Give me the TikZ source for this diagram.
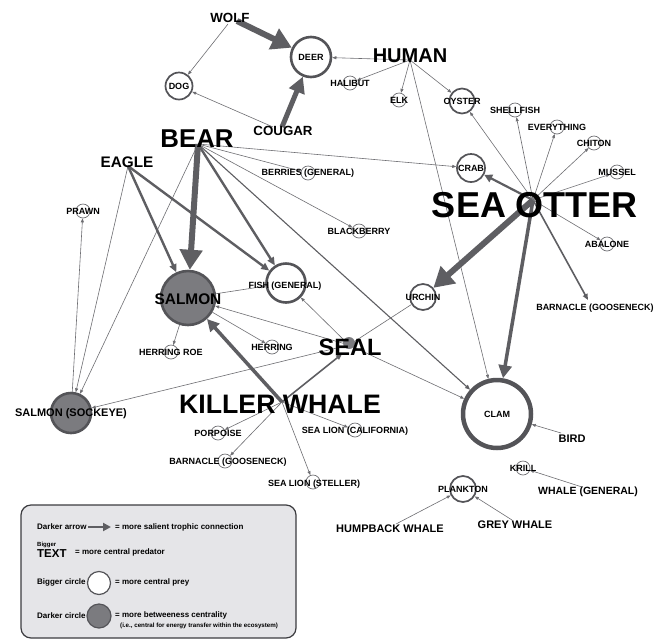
\documentclass[tikz,border=0pt]{standalone}
\usepackage{fontspec}
\setmainfont{Liberation Sans}
\usetikzlibrary{arrows.meta,backgrounds}
\definecolor{edgec}{HTML}{5E5E62}
\definecolor{thinc}{HTML}{6E6E72}
\definecolor{nodec}{HTML}{545458}
\definecolor{fillg}{HTML}{7B7B7F}
\definecolor{legbg}{HTML}{E5E5E8}
\definecolor{legbd}{HTML}{3C3C40}
\begin{document}
\begin{tikzpicture}[x=1pt,y=-1pt,
  every node/.style={inner sep=0pt},
  fnt/.style={font=\bfseries\fontsize{#1}{#1}\selectfont},
  lbl/.style={fnt=9},
  sc/.style={circle, draw=thinc, line width=0.7pt, fill=white, minimum size=14pt},
  mc/.style={circle, draw=nodec, line width=1.7pt, fill=white, minimum size=#1},
  bc/.style={circle, draw=nodec, line width=2.6pt, fill=white, minimum size=#1},
  gc/.style={circle, draw=nodec, line width=2.6pt, fill=fillg, minimum size=#1},
  hugeA/.style={draw=edgec, line width=6pt, -{Triangle[length=20pt,width=22pt]}},
  bigA/.style={draw=edgec, line width=5pt, -{Triangle[length=16pt,width=16pt]}},
  thickA/.style={draw=edgec, line width=3.5pt, -{Triangle[length=13pt,width=13pt]}},
  kwA/.style={draw=edgec, line width=3.5pt, -{Triangle[length=12pt,width=12pt]}},
  medA/.style={draw=edgec, line width=2.4pt, -{Triangle[length=8pt,width=7pt]}},
  crabA/.style={draw=edgec, line width=2.2pt, -{Triangle[length=8pt,width=8pt]}},
  semiTwoA/.style={draw=edgec, line width=1.6pt, -{Triangle[length=6pt,width=5pt]}},
  semiA/.style={draw=edgec, line width=1.1pt, -{Triangle[length=5pt,width=4pt]}},
  thinA/.style={draw=thinc, line width=0.6pt, -{Triangle[length=4pt,width=3pt]}},
  thinL/.style={draw=thinc, line width=0.6pt}
]
\useasboundingbox (0,0) rectangle (662,641);

% ---------- nodes ----------
\node[bc=40pt] (deer) at (311,57) {};
\node[lbl] at (deer) {DEER};
\node[mc=27pt] (dog) at (179,86) {};
\node[lbl] at (dog) {DOG};
\node[fnt=13.3] (wolf) at (230,18) {WOLF};
\node[fnt=13.3] (cougar) at (283,131) {COUGAR};
\node[fnt=20] (human) at (410,56) {HUMAN};
\node[sc] (halibut) at (350,83) {};
\node[lbl] at (halibut) {HALIBUT};
\node[sc] (elk) at (399,100) {};
\node[lbl] at (elk) {ELK};
\node[mc=25pt] (oyster) at (462,101) {};
\node[lbl] at (oyster) {OYSTER};
\node[sc] (shellfish) at (515,110) {};
\node[lbl] at (shellfish) {SHELLFISH};
\node[sc] (everything) at (557,127) {};
\node[lbl] at (everything) {EVERYTHING};
\node[sc] (chiton) at (594,143) {};
\node[lbl] at (chiton) {CHITON};
\node[sc] (mussel) at (617,172) {};
\node[lbl] at (mussel) {MUSSEL};
\node[mc=28pt] (crab) at (471,168) {};
\node[lbl] at (crab) {CRAB};
\node[sc] (abalone) at (607,244) {};
\node[lbl] at (abalone) {ABALONE};
\node[lbl] (barnR) at (595,308) {BARNACLE (GOOSENECK)};
\node[fnt=25.8] (bear) at (197,139) {BEAR};
\node[fnt=15.3] (eagle) at (127,162) {EAGLE};
\node[sc] (berries) at (308,173) {};
\node[lbl] at (berries) {BERRIES (GENERAL)};
\node[sc] (blackberry) at (359,231) {};
\node[lbl] at (blackberry) {BLACKBERRY};
\node[sc] (prawn) at (83,211) {};
\node[lbl] at (prawn) {PRAWN};
\node[gc=54pt] (salmon) at (188,298) {};
\node[fnt=15.4] at (188,299) {SALMON};
\node[bc=39pt] (fish) at (286,283) {};
\node[lbl] at (285,286) {FISH (GENERAL)};
\node[mc=26pt] (urchin) at (423,297) {};
\node[lbl] at (urchin) {URCHIN};
\node[sc] (roe) at (171,352) {};
\node[lbl] at (roe) {HERRING ROE};
\node[sc] (herring) at (272,347) {};
\node[lbl] at (herring) {HERRING};
\node[circle, fill=fillg, minimum size=12pt] (sealdot) at (349,343) {};
\node[fnt=23.6] (seal) at (350,347) {SEAL};
\node[gc=40pt] (sockeye) at (71,413) {};
\node[fnt=11] at (71,414) {SALMON (SOCKEYE)};
\node[fnt=26.7] (kw) at (280,404) {KILLER WHALE};
\node[sc] (porpoise) at (218,433) {};
\node[lbl] at (porpoise) {PORPOISE};
\node[sc] (barnL) at (225,461) {};
\node[lbl] at (228,462) {BARNACLE (GOOSENECK)};
\node[sc] (slcal) at (355,430) {};
\node[lbl] at (355,431) {SEA LION (CALIFORNIA)};
\node[sc] (slst) at (313,482) {};
\node[lbl] at (314,484) {SEA LION (STELLER)};
\node[circle, draw=nodec, line width=4.5pt, fill=white, minimum size=68pt] (clam) at (497,414) {};
\node[lbl] at (clam) {CLAM};
\node[fnt=11] (bird) at (572,439) {BIRD};
\node[sc] (krill) at (523,468) {};
\node[lbl] at (krill) {KRILL};
\node[fnt=10.5] (whaleg) at (588,492) {WHALE (GENERAL)};
\node[mc=26pt] (plankton) at (463,489) {};
\node[lbl] at (plankton) {PLANKTON};
\node[fnt=11] (humpback) at (390,529) {HUMPBACK WHALE};
\node[fnt=11] (grey) at (515,525) {GREY WHALE};
\node[fnt=36] (otter) at (535,205) {SEA OTTER};

% ---------- hubs ----------
\coordinate (wolfH) at (237,21);
\coordinate (wolfHb) at (228,24);
\coordinate (cougH) at (282,127);
\coordinate (cougHb) at (273,127);
\coordinate (humH) at (410,60);
\coordinate (bearH) at (198,144);
\coordinate (eagleH) at (128,166);
\coordinate (otterH) at (533,200);
\coordinate (sealH) at (349,345);
\coordinate (sealTip) at (342,354);
\coordinate (kwH) at (282,402);
\coordinate (birdH) at (561,433);
\coordinate (whaleH) at (582,487);
\coordinate (humpH) at (396,524);
\coordinate (greyH) at (512,520);
\coordinate (barnRtip) at (588,300);

% ---------- edges ----------
\begin{scope}[on background layer]
\fill[white] (0,0) rectangle (662,641);
\draw[hugeA] (wolfH) -- (deer);
\draw[thinA] (wolfHb) -- (dog);
\draw[bigA] (cougH) -- (deer);
\draw[thinA] (cougHb) -- (dog);
\draw[thinA] (humH) -- (deer);
\draw[thinA] (humH) -- (halibut);
\draw[thinA] (humH) -- (elk);
\draw[thinA] (humH) -- (oyster);
\draw[thinA] (humH) -- (clam);
\draw[hugeA] (bearH) -- (salmon);
\draw[medA] (bearH) -- (fish);
\draw[thinA] (bearH) -- (berries);
\draw[thinA] (bearH) -- (blackberry);
\draw[thinA] (bearH) -- (crab);
\draw[semiA] (bearH) -- (clam);
\draw[thinA] (bearH) -- (sockeye);
\draw[medA] (eagleH) -- (salmon);
\draw[medA] (eagleH) -- (fish);
\draw[thinA] (eagleH) -- (sockeye);
\draw[thinA] (sockeye) -- (prawn);
\draw[thinA] (salmon) -- (roe);
\draw[thinA] (salmon) -- (herring);
\draw[thinA] (salmon) -- (fish);
\draw[thinA] (sealH) -- (salmon);
\draw[thinA] (sealH) -- (fish);
\draw[thinL] (sealH) -- (urchin);
\draw[thinA] (sealH) -- (sockeye);
\draw[thinA] (sealH) -- (clam);
\draw[hugeA] (otterH) -- (urchin);
\draw[thickA] (otterH) -- (clam);
\draw[crabA] (otterH) -- (crab);
\draw[semiTwoA] (otterH) -- (barnRtip);
\draw[thinA] (otterH) -- (oyster);
\draw[thinA] (otterH) -- (shellfish);
\draw[thinA] (otterH) -- (everything);
\draw[thinA] (otterH) -- (chiton);
\draw[thinA] (otterH) -- (mussel);
\draw[thinA] (otterH) -- (abalone);
\draw[kwA] (kwH) -- (salmon);
\draw[semiTwoA] (kwH) -- (sealTip);
\draw[thinA] (kwH) -- (porpoise);
\draw[thinA] (kwH) -- (barnL);
\draw[thinA] (kwH) -- (slcal);
\draw[thinA] (kwH) -- (slst);
\draw[thinA] (birdH) -- (clam);
\draw[thinA] (whaleH) -- (krill);
\draw[thinA] (humpH) -- (plankton);
\draw[thinA] (greyH) -- (plankton);
\end{scope}

% ---------- legend ----------
\node[draw=legbd, fill=legbg, line width=1.2pt, rounded corners=10pt,
      minimum width=275pt, minimum height=133pt] (legend) at (158.5,571.5) {};
\node[fnt=8, anchor=west] (lgA) at (37,527) {Darker arrow};
\coordinate (lgAa) at (88,527);
\coordinate (lgAb) at (111,527);
\draw[draw=edgec, line width=2.5pt, -{Triangle[length=8pt,width=8pt]}] (lgAa) -- (lgAb);
\node[fnt=8, anchor=west] (lgAt) at (115,527) {= more salient trophic connection};
\node[fnt=6, anchor=west] (lgB1) at (37,545) {Bigger};
\node[fnt=11.5, anchor=west] (lgB2) at (37,554) {TEXT};
\node[fnt=8, anchor=west] (lgBt) at (75,552) {= more central predator};
\node[fnt=8, anchor=west] (lgC) at (37,582) {Bigger circle};
\node[circle, draw=nodec, line width=1.2pt, fill=white, minimum size=23pt] (lgCc) at (99,583) {};
\node[fnt=8, anchor=west] (lgCt) at (115,582) {= more central prey};
\node[fnt=8, anchor=west] (lgD) at (37,616) {Darker circle};
\node[circle, draw=nodec, line width=1.2pt, fill=fillg, minimum size=24pt] (lgDc) at (99,616) {};
\node[fnt=8, anchor=west] (lgDt) at (115,615) {= more betweeness centrality};
\node[fnt=6.2, anchor=west] (lgDs) at (120,626) {(i.e., central for energy transfer within the ecosystem)};
\end{tikzpicture}
\end{document}
